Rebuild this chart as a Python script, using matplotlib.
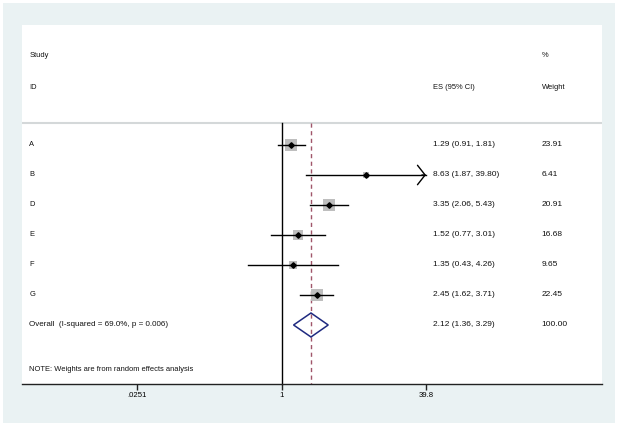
import matplotlib
matplotlib.use("Agg")
import matplotlib.pyplot as plt
from matplotlib.patches import Polygon, Rectangle
import numpy as np

# ---- data ----
studies = ["A", "B", "D", "E", "F", "G"]
es = [1.29, 8.63, 3.35, 1.52, 1.35, 2.45]
lo = [0.91, 1.87, 2.06, 0.77, 0.43, 1.62]
hi = [1.81, 39.80, 5.43, 3.01, 4.26, 3.71]
weights = [23.91, 6.41, 20.91, 16.68, 9.65, 22.45]
overall_es, overall_lo, overall_hi = 2.12, 1.36, 3.29
overall_weight = 100.00
overall_label = "Overall  (I-squared = 69.0%, p = 0.006)"
note = "NOTE: Weights are from random effects analysis"
tick_vals = [0.0251, 1, 39.8]
tick_labels = [".0251", "1", "39.8"]
clip_max = 39.8

W, H = 619, 430
BG = "#eaf2f3"
FONT = "Liberation Sans"
FS = 5.8
FSL = 5.45
FSN = 6.05

fig = plt.figure(figsize=(W / 100, H / 100), dpi=100)
fig.patch.set_facecolor("white")
fig.patches.append(Rectangle((3 / W, 7 / H), 612 / W, 420 / H, transform=fig.transFigure,
                             facecolor=BG, edgecolor="none", zorder=-10))

# axes in pixel coords: x 22..602, y 25..384 (from top)
ax = fig.add_axes([22 / W, (H - 384) / H, 580 / W, 359 / H])
ax.set_facecolor("white")
ax.set_xscale("log")
px_per_ln = 144.5 / np.log(39.8)
xmin = np.exp((22 - 281.5) / px_per_ln)
xmax = np.exp((602 - 281.5) / px_per_ln)
ax.set_xlim(xmin, xmax)
ax.set_ylim(8.967, -3)

rows = np.arange(1, len(studies) + 1)
orow = len(studies) + 1
sep_y = 0.257

for s in ["top", "left", "right"]:
    ax.spines[s].set_visible(False)
ax.spines["bottom"].set_linewidth(1.0)
ax.spines["bottom"].set_color("#222222")
ax.set_yticks([])
ax.set_xticks(tick_vals)
ax.set_xticklabels(tick_labels, fontfamily=FONT, fontsize=5.6)
ax.xaxis.set_minor_locator(matplotlib.ticker.NullLocator())
ax.tick_params(axis="x", length=4, width=1, direction="out", pad=1.5, color="#222222")

# separator line
ax.axhline(sep_y, color="#d4d8d9", lw=1.5, zorder=1)
# null line and overall line
ax.plot([1, 1], [sep_y, 8.967], color="black", lw=1.0, zorder=2, clip_on=False)
ax.plot([overall_es, overall_es], [sep_y, 8.967], color="#a0566a", lw=1.0,
        ls=(0, (3, 2.5)), zorder=2, clip_on=False)

# studies
k = 1.84 * 0.72
for r, e, l, h, w in zip(rows, es, lo, hi, weights):
    ax.scatter([e], [r], marker="s", s=1.8 * (k ** 2) * w, color="#bebebe", zorder=3, linewidths=0)
    if h >= clip_max:
        ax.plot([l, clip_max], [r, r], color="black", lw=1.0, zorder=4)
        ax.annotate("", xy=(clip_max, r), xytext=(clip_max * 0.9, r),
                    arrowprops=dict(arrowstyle="->,head_length=0.55,head_width=0.7",
                                    color="black", lw=1.0, shrinkA=0, shrinkB=0), zorder=4)
    else:
        ax.plot([l, h], [r, r], color="black", lw=1.0, zorder=4)
    ax.plot([e], [r], marker="D", ms=2.8, color="black", zorder=5, lw=0)

# overall diamond
dia = Polygon([(overall_lo, orow), (overall_es, orow - 0.4), (overall_hi, orow),
               (overall_es, orow + 0.4)], closed=True, fill=False,
              edgecolor="#1f2a80", lw=1.1, zorder=4)
ax.add_patch(dia)

# text columns
tr = ax.get_yaxis_transform()
xl, xes, xw = 0.0125, 0.709, 0.896
tk = dict(fontfamily=FONT, fontsize=FSL, va="center", ha="left", transform=tr, color="#111111")
tn = dict(fontfamily=FONT, fontsize=FSN, va="center", ha="left", transform=tr, color="#111111")
ax.text(xl, -1.97, "Study", **tk)
ax.text(xl, -0.9, "ID", **tk)
ax.text(xes, -0.9, "ES (95% CI)", **tk)
ax.text(xw, -1.97, "%", **tk)
ax.text(xw, -0.9, "Weight", **tk)
for r, name, e, l, h, w in zip(rows, studies, es, lo, hi, weights):
    ax.text(xl, r, name, **tk)
    ax.text(xes, r, f"{e:.2f} ({l:.2f}, {h:.2f})", **tn)
    ax.text(xw, r, f"{w:.2f}", **tn)
ax.text(xl, orow, overall_label, fontfamily=FONT, fontsize=FS, va="center", ha="left",
        transform=tr, color="#111111")
ax.text(xes, orow, f"{overall_es:.2f} ({overall_lo:.2f}, {overall_hi:.2f})", **tn)
ax.text(xw, orow, f"{overall_weight:.2f}", **tn)
ax.text(xl, 8.5, note, **tk)

fig.savefig("out.png", dpi=100, facecolor=fig.get_facecolor())
